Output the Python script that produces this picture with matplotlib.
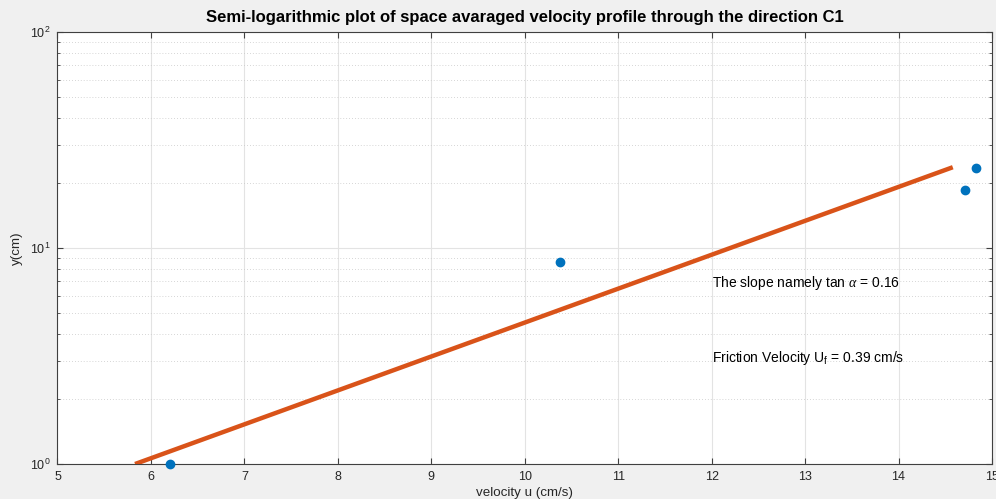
import numpy as np
import matplotlib
matplotlib.use("Agg")
import matplotlib.pyplot as plt
from matplotlib.ticker import LogLocator, NullFormatter

plt.rcParams['font.family'] = ['Liberation Sans', 'DejaVu Sans']
plt.rcParams['mathtext.fontset'] = 'custom'
plt.rcParams['mathtext.it'] = 'Liberation Serif:italic'
plt.rcParams['mathtext.rm'] = 'Liberation Sans'

# data
u_points = [6.2, 10.38, 14.71, 14.83]
y_points = [1.0, 8.6, 18.6, 23.5]
fit_u = [5.83, 14.58]
slope = 0.157
title = "Semi-logarithmic plot of space avaraged velocity profile through the direction C1"
xticks = [5, 6, 7, 8, 9, 10, 11, 12, 13, 14, 15]

fit_y = [10 ** (slope * (u - fit_u[0])) for u in fit_u]

fig = plt.figure(figsize=(9.96, 4.99), dpi=100, facecolor='#f0f0f0')
ax = fig.add_axes([0.0577, 0.0701, 0.9383, 0.8659])
ax.set_facecolor('white')

ax.plot(fit_u, fit_y, color='#D95319', lw=3.2, solid_capstyle='butt', zorder=3)
ax.plot(u_points, y_points, 'o', color='#0072BD', ms=6, zorder=4, clip_on=False)

ax.set_yscale('log')
ax.set_xlim(5, 15)
ax.set_ylim(1, 100)
ax.set_xticks(xticks)
ax.yaxis.set_major_locator(LogLocator(base=10, numticks=5))
ax.yaxis.set_minor_locator(LogLocator(base=10, subs=np.arange(2, 10), numticks=20))
ax.yaxis.set_minor_formatter(NullFormatter())

ax.grid(True, which='major', color='#e3e3e3', lw=0.8, ls='-')
ax.grid(True, which='minor', axis='y', color='#c8c8c8', lw=0.6, ls=(0, (1, 2.5)))
ax.set_axisbelow(True)

for s in ax.spines.values():
    s.set_color('#404040')
    s.set_linewidth(0.8)
ax.tick_params(which='both', direction='in', top=True, right=True, colors='#404040',
               labelcolor='#262626', labelsize=9, pad=5)
ax.tick_params(which='major', length=4)
ax.tick_params(which='minor', length=2.5)

ax.set_title(title, fontsize=12, fontweight='bold', color='black', pad=7)
ax.set_xlabel('velocity u (cm/s)', fontsize=9.6, color='#262626', labelpad=3)
ax.set_ylabel('y(cm)', fontsize=9.6, color='#262626', labelpad=5)

ax.text(12.0, 6.9, r'The slope namely tan $\alpha$ = 0.16', fontsize=10, va='center', ha='left')
ax.text(12.0, 3.1, r'Friction Velocity U$_\mathrm{f}$ = 0.39 cm/s', fontsize=10, va='center', ha='left')

fig.savefig('out.png', dpi=100, facecolor=fig.get_facecolor())
